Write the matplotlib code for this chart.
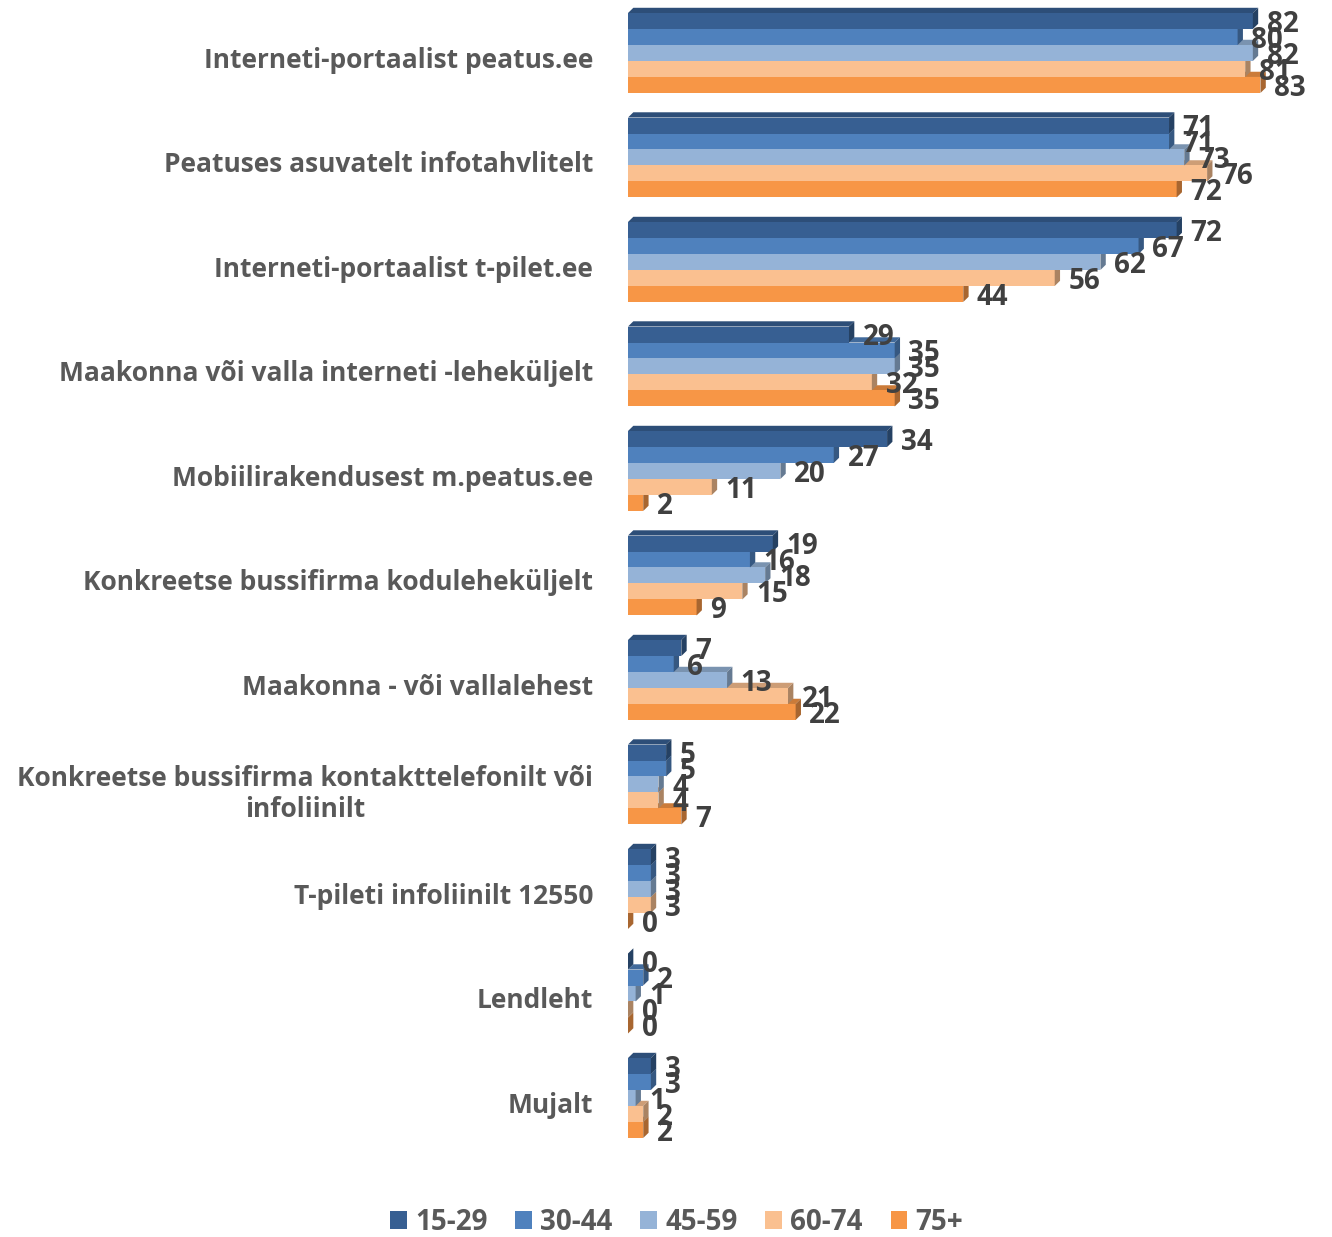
import numpy as np
import matplotlib.pyplot as plt
from matplotlib.patches import Polygon, Patch
import matplotlib.colors as mcolors

categories = [
    "Interneti-portaalist peatus.ee",
    "Peatuses asuvatelt infotahvlitelt",
    "Interneti-portaalist t-pilet.ee",
    "Maakonna või valla interneti -leheküljelt",
    "Mobiilirakendusest m.peatus.ee",
    "Konkreetse bussifirma koduleheküljelt",
    "Maakonna - või vallalehest",
    "Konkreetse bussifirma kontakttelefonilt või\ninfoliinilt",
    "T-pileti infoliinilt 12550",
    "Lendleht",
    "Mujalt",
]
series_names = ["15-29", "30-44", "45-59", "60-74", "75+"]
v_15_29 = [82, 71, 72, 29, 34, 19, 7, 5, 3, 0, 3]
v_30_44 = [80, 71, 67, 35, 27, 16, 6, 5, 3, 2, 3]
v_45_59 = [82, 73, 62, 35, 20, 18, 13, 4, 3, 1, 1]
v_60_74 = [81, 76, 56, 32, 11, 15, 21, 4, 3, 0, 2]
v_75 = [83, 72, 44, 35, 2, 9, 22, 7, 0, 0, 2]
values = [v_15_29, v_30_44, v_45_59, v_60_74, v_75]

colors = ["#375F92", "#4F81BD", "#95B3D7", "#FAC090", "#F79646"]


def shade(c, f):
    r, g, b = mcolors.to_rgb(c)
    return (r * f, g * f, b * f)


plt.rcParams['font.family'] = ['Open Sans', 'DejaVu Sans']

fig = plt.figure(figsize=(13.32, 12.37), dpi=100)
ax = fig.add_axes([628 / 1332, 67 / 1237, 704 / 1332, 1170 / 1237])

n = len(series_names)
h = 0.153      # bar thickness (group units)
dx = 0.7       # depth offset in x (data units)
dy = 0.05      # depth offset in y
y = np.arange(len(categories))

# lowest bar of each group first so the upper ones cover their top faces
for j in range(n - 1, -1, -1):
    yc = y + (j - (n - 1) / 2) * h
    vals = np.array(values[j], dtype=float)
    ax.barh(yc, vals, height=h, color=colors[j], edgecolor='none', zorder=2 + (n - j) * 0.01)
    for yy, v in zip(yc, vals):
        yt = yy - h / 2
        yb = yy + h / 2
        top = Polygon([(0, yt), (dx, yt - dy), (v + dx, yt - dy), (v, yt)],
                      closed=True, facecolor=shade(colors[j], 0.82), edgecolor='none',
                      zorder=1.9 + (n - j) * 0.01)
        side = Polygon([(v, yt), (v + dx, yt - dy), (v + dx, yb - dy), (v, yb)],
                       closed=True, facecolor=shade(colors[j], 0.68), edgecolor='none',
                       zorder=2 + (n - j) * 0.01 + 0.001)
        ax.add_patch(top)
        ax.add_patch(side)
        ax.text(v + 1.8, yy + 0.03, str(int(v)), ha='left', va='center',
                fontsize=20, fontweight='bold', color='#404040', zorder=5)

ax.set_xlim(0, 704 / 7.62)
ax.set_ylim(10.689, -0.507)
ax.set_yticks(y + 0.04)
ax.set_yticklabels(categories, fontsize=19, fontweight='bold', color='#595959')
for lab in ax.get_yticklabels():
    lab.set_multialignment('center')
ax.tick_params(axis='y', length=0, pad=25)
ax.set_xticks([])
for s in ax.spines.values():
    s.set_visible(False)

handles = [Patch(facecolor=c, edgecolor='none') for c in colors]
leg = fig.legend(handles, series_names, loc='center', bbox_to_anchor=(0.508, 1 - 1222 / 1237),
                 ncol=5, frameon=False, handlelength=0.6, handleheight=0.6,
                 handletextpad=0.3, columnspacing=1.0, borderpad=0.1,
                 prop={'size': 20, 'weight': 'bold'})
for t in leg.get_texts():
    t.set_color('#595959')

fig.savefig("out.png", dpi=100)
